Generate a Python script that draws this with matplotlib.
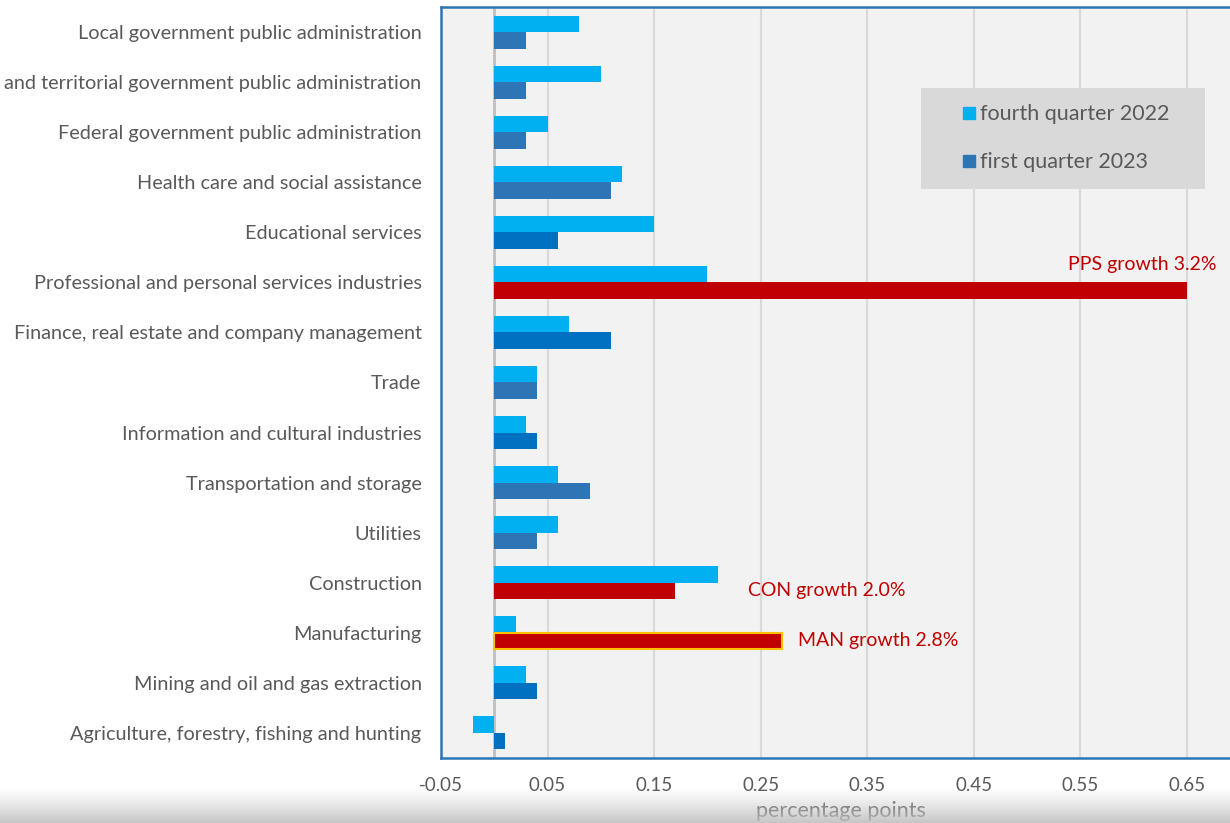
import matplotlib.pyplot as plt
from matplotlib.lines import Line2D
import numpy as np

plt.rcParams['font.family'] = ['Lato', 'DejaVu Sans']

industries = [
    "Local government public administration",
    "and territorial government public administration",
    "Federal government public administration",
    "Health care and social assistance",
    "Educational services",
    "Professional and personal services industries",
    "Finance, real estate and company management",
    "Trade",
    "Information and cultural industries",
    "Transportation and storage",
    "Utilities",
    "Construction",
    "Manufacturing",
    "Mining and oil and gas extraction",
    "Agriculture, forestry, fishing and hunting",
]
q4_2022 = [0.08, 0.10, 0.05, 0.12, 0.15, 0.20, 0.07, 0.04, 0.03, 0.06, 0.06, 0.21, 0.02, 0.03, -0.02]
q1_2023 = [0.03, 0.03, 0.03, 0.11, 0.06, 0.65, 0.11, 0.04, 0.04, 0.09, 0.04, 0.17, 0.27, 0.04, 0.01]

# colour of each first-quarter bar (highlighted industries in red)
q1_colors = ["#2E75B6", "#2E75B6", "#2E75B6", "#2E75B6", "#0070C0", "#C00000", "#0070C0",
             "#2E75B6", "#0070C0", "#2E75B6", "#2E75B6", "#C00000", "#C00000", "#0070C0", "#0070C0"]

notes = {5: "PPS growth 3.2%", 11: "CON growth 2.0%", 12: "MAN growth 2.8%"}

xticks = [-0.05, 0.05, 0.15, 0.25, 0.35, 0.45, 0.55, 0.65]
legend_labels = ["fourth quarter 2022", "first quarter 2023"]

GREY = "#595959"
LIGHT = "#00B0F0"

fig = plt.figure(figsize=(12.3, 8.23), dpi=100)
ax = fig.add_axes([441 / 1230, 65 / 823, 799 / 1230, 751 / 823])
ax.set_facecolor("#F2F2F2")

y = np.arange(len(industries))
h = 0.33
ax.barh(y - h / 2, q4_2022, height=h, color=LIGHT, zorder=3)
dark = ax.barh(y + h / 2, q1_2023, height=h, color=q1_colors, zorder=3)
dark[12].set_edgecolor("#FFC000")
dark[12].set_linewidth(1.5)

# growth notes next to the highlighted bars
ax.text(q1_2023[5] + 0.028, 5 - 0.36, notes[5], color="#C00000", fontsize=14,
        ha="right", va="center", zorder=4)
ax.text(q1_2023[11] + 0.068, 11 + 0.16, notes[11], color="#C00000", fontsize=14,
        ha="left", va="center", zorder=4)
ax.text(q1_2023[12] + 0.015, 12 + 0.16, notes[12], color="#C00000", fontsize=14,
        ha="left", va="center", zorder=4)

ax.set_xlim(-0.05, 0.7)
ax.set_ylim(len(industries) - 0.5, -0.5)
ax.set_xticks(xticks)
ax.set_xticklabels([f"{t:.2f}" for t in xticks])
ax.set_yticks(y)
ax.set_yticklabels(industries)
ax.tick_params(axis="both", length=0, colors=GREY)
ax.tick_params(axis="y", pad=14, labelsize=14.3)
ax.tick_params(axis="x", pad=14, labelsize=13.5)
ax.grid(axis="x", color="#D9D9D9", linewidth=1.5, zorder=0)
ax.axvline(0, color="#BFBFBF", linewidth=2, zorder=2)
ax.set_xlabel("percentage points", color=GREY, fontsize=15.5, labelpad=5)
for side in ax.spines.values():
    side.set_color("#2E75B6")
    side.set_linewidth(1.8)
ax.spines["right"].set_visible(False)

handles = [Line2D([], [], marker="s", linestyle="none", markersize=9, color=LIGHT),
           Line2D([], [], marker="s", linestyle="none", markersize=9, color="#2E75B6")]
leg = ax.legend(handles, legend_labels, loc="upper left", bbox_to_anchor=(0.6008, 0.892, 0.355, 0.0),
                mode="expand", fontsize=15.5, labelcolor=GREY, frameon=True, fancybox=False,
                facecolor="#D9D9D9", edgecolor="none", framealpha=1, labelspacing=1.31,
                borderpad=0.75, handletextpad=-0.97, borderaxespad=0, handlelength=2.97)
leg.set_zorder(5)

# soft shadow along the bottom edge
shade = fig.add_axes([0, 0, 1, 36 / 823], zorder=10)
ramp = np.linspace(0, 1, 64) ** 1.2
img = np.zeros((64, 2, 4))
img[:, :, :3] = 0.76
img[:, :, 3] = (ramp * 0.92)[:, None]
shade.imshow(img, aspect="auto", origin="upper", extent=[0, 1, 0, 1])
shade.set_axis_off()

fig.savefig("out.png", dpi=100)
